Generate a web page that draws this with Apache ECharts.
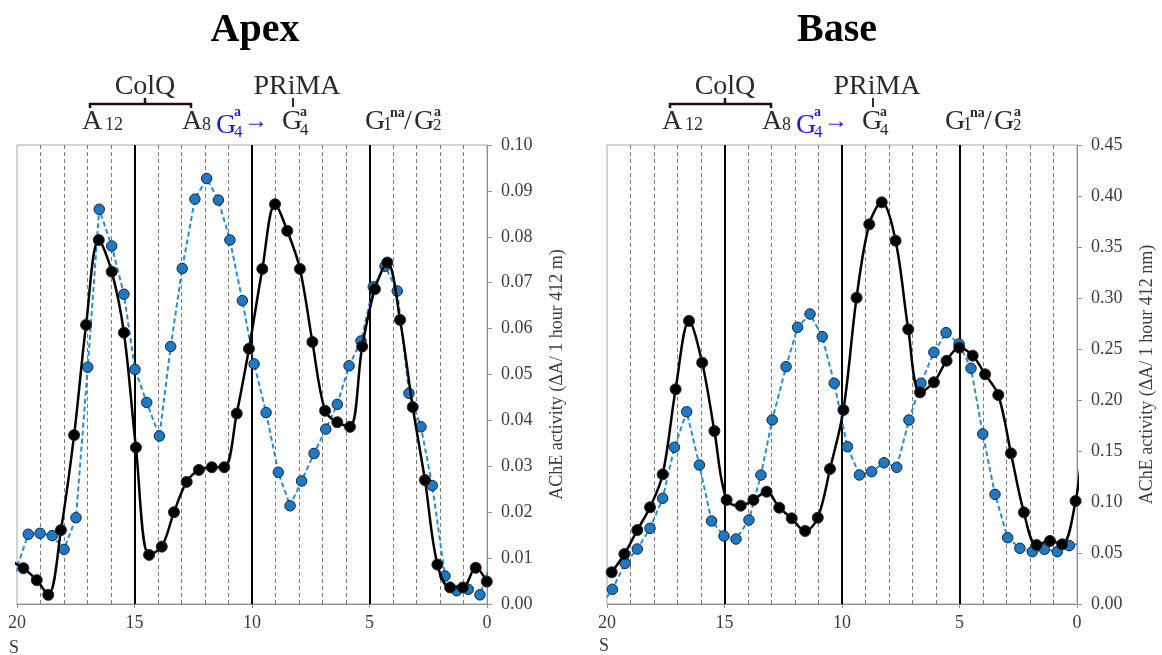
<!DOCTYPE html>
<html>
<head>
<meta charset="utf-8">
<title>AChE molecular forms – Apex / Base</title>
<script src="https://cdn.jsdelivr.net/npm/echarts@6/dist/echarts.min.js"></script>
<style>
  html, body { margin: 0; padding: 0; background: #fff; }
  #chart { width: 1162px; height: 655px; }
</style>
</head>
<body>
<div id="chart"></div>
<script>
// ---- Data: fraction position (S) and AChE activity for each gradient ----
// Apex, black series (smoothed)
const apexBlackX = [20.25, 19.73, 19.16, 18.67, 18.13, 17.57, 17.06, 16.52, 15.97, 15.45, 14.94, 14.38, 13.84, 13.32, 12.78, 12.26, 11.71, 11.18, 10.65, 10.13, 9.56, 9.02, 8.50, 7.96, 7.43, 6.89, 6.37, 5.83, 5.31, 4.77, 4.24, 3.70, 3.16, 2.64, 2.11, 1.57, 1.03, 0.48, 0.01];
const apexBlackY = [0.0093, 0.0078, 0.0052, 0.0020, 0.0161, 0.0368, 0.0608, 0.0793, 0.0724, 0.0591, 0.0341, 0.0107, 0.0125, 0.0200, 0.0266, 0.0292, 0.0298, 0.0298, 0.0415, 0.0556, 0.0730, 0.0871, 0.0813, 0.0730, 0.0571, 0.0421, 0.0396, 0.0386, 0.0561, 0.0686, 0.0744, 0.0619, 0.0429, 0.0270, 0.0086, 0.0036, 0.0036, 0.0079, 0.0049];
// Apex, blue series (dashed)
const apexBlueX = [20.2, 19.52, 19.02, 18.50, 18.00, 17.49, 16.99, 16.50, 15.97, 15.45, 14.98, 14.48, 13.94, 13.46, 12.97, 12.43, 11.93, 11.43, 10.94, 10.41, 9.91, 9.40, 8.88, 8.38, 7.89, 7.36, 6.86, 6.37, 5.87, 5.36, 4.84, 4.34, 3.82, 3.32, 2.81, 2.33, 1.79, 1.29, 0.80, 0.30, -0.2];
const apexBlueY = [0.0050, 0.0152, 0.0154, 0.0149, 0.0119, 0.0188, 0.0516, 0.0860, 0.0780, 0.0675, 0.0511, 0.0439, 0.0366, 0.0561, 0.0731, 0.0882, 0.0927, 0.0880, 0.0793, 0.0661, 0.0523, 0.0417, 0.0287, 0.0214, 0.0268, 0.0328, 0.0381, 0.0435, 0.0519, 0.0573, 0.0691, 0.0736, 0.0682, 0.0459, 0.0386, 0.0258, 0.0061, 0.0029, 0.0032, 0.0020, 0.0094];
// Base, black series (smoothed)
const baseBlackX = [19.80, 19.26, 18.71, 18.17, 17.63, 17.08, 16.51, 15.95, 15.43, 14.91, 14.31, 13.77, 13.21, 12.67, 12.14, 11.57, 11.03, 10.51, 9.94, 9.38, 8.84, 8.31, 7.72, 7.18, 6.68, 6.09, 5.55, 5.01, 4.44, 3.91, 3.35, 2.81, 2.26, 1.72, 1.15, 0.63, 0.06, -0.2];
const baseBlackY = [0.0311, 0.0490, 0.0725, 0.0948, 0.1271, 0.2105, 0.2775, 0.2366, 0.1696, 0.1020, 0.0964, 0.1020, 0.1101, 0.0944, 0.0840, 0.0716, 0.0846, 0.1324, 0.1902, 0.3003, 0.3722, 0.3938, 0.3562, 0.2693, 0.2075, 0.2174, 0.2385, 0.2513, 0.2435, 0.2252, 0.2049, 0.1477, 0.0899, 0.0578, 0.0618, 0.0585, 0.1010, 0.1500];
// Base, blue series (dashed)
const baseBlueX = [20.2, 19.77, 19.23, 18.71, 18.17, 17.63, 17.13, 16.61, 16.07, 15.55, 15.02, 14.51, 13.96, 13.45, 12.97, 12.38, 11.89, 11.36, 10.84, 10.33, 9.77, 9.26, 8.74, 8.21, 7.67, 7.15, 6.64, 6.09, 5.57, 5.02, 4.51, 4.01, 3.49, 2.95, 2.43, 1.90, 1.39, 0.84, 0.33, -0.3];
const baseBlueY = [0.0000, 0.0144, 0.0399, 0.0539, 0.0742, 0.1036, 0.1536, 0.1885, 0.1363, 0.0814, 0.0667, 0.0637, 0.0824, 0.1265, 0.1804, 0.2327, 0.2713, 0.2843, 0.2621, 0.2164, 0.1542, 0.1265, 0.1297, 0.1385, 0.1340, 0.1804, 0.2164, 0.2468, 0.2660, 0.2549, 0.2311, 0.1667, 0.1075, 0.0650, 0.0546, 0.0513, 0.0536, 0.0513, 0.0572, 0.0600];

// Axis ranges and tick steps
const xRange = [0, 20];           // S, drawn reversed (20 on the left)
const xStep = 5;
const apexYRange = [0, 0.10];
const apexYStep = 0.01;
const baseYRange = [0, 0.45];
const baseYStep = 0.05;

const panelTitles = ['Apex', 'Base'];
const yAxisTitles = ['AChE activity (\u0394A/ 1 hour 412 m)', 'AChE activity (\u0394A/ 1 hour 412 nm)'];

const zip = (xs, ys) => xs.map((x, i) => [x, ys[i]]);

const SERIF = '"Liberation Serif", "Times New Roman", serif';
const AXIS_GREY = '#8f8f8f';
const TEXT_GREY = '#3c3c3c';
const BLUE_LINE = '#2b8ad6';
const BLUE_DOT = '#1f78c0';

const grids = [
  { left: 17, top: 145, width: 470, height: 459 },
  { left: 607, top: 145, width: 470, height: 459 }
];

function makeX(gi) {
  return {
    type: 'value', gridIndex: gi, min: xRange[0], max: xRange[1], interval: xStep, inverse: true,
    axisLine: { show: true, onZero: false, lineStyle: { color: AXIS_GREY, width: 1 } },
    axisTick: { show: true, length: 4, lineStyle: { color: AXIS_GREY } },
    axisLabel: { fontFamily: SERIF, fontSize: 18, color: TEXT_GREY, margin: 10 },
    splitLine: { show: true, showMinLine: false, showMaxLine: false, lineStyle: { color: '#000', width: 2 } },
    minorTick: { show: false, splitNumber: 5 },
    minorSplitLine: { show: true, lineStyle: { color: '#7a7a7a', width: 1, type: [4, 3] } }
  };
}

function makeY(gi, range, step, name) {
  return {
    type: 'value', gridIndex: gi, position: 'right', min: range[0], max: range[1], interval: step,
    axisLine: { show: true, lineStyle: { color: AXIS_GREY, width: 1 } },
    axisTick: { show: true, inside: false, length: 5, lineStyle: { color: AXIS_GREY } },
    axisLabel: { fontFamily: SERIF, fontSize: 18, color: TEXT_GREY, margin: 14, formatter: v => v.toFixed(2) },
    splitLine: { show: false },
    name: name, nameLocation: 'middle', nameRotate: 90, nameGap: 61,
    nameTextStyle: { fontFamily: SERIF, fontSize: 18, color: TEXT_GREY }
  };
}

function blackSeries(gi, data) {
  return {
    type: 'line', xAxisIndex: gi, yAxisIndex: gi, data: data, smooth: 0.35,
    symbol: 'circle', symbolSize: 11,
    lineStyle: { color: '#000', width: 2.5 },
    itemStyle: { color: '#000', borderColor: '#262626', borderWidth: 1 },
    z: 3
  };
}

function blueSeries(gi, data) {
  return {
    type: 'line', xAxisIndex: gi, yAxisIndex: gi, data: data, smooth: false,
    symbol: 'circle', symbolSize: 10.5,
    lineStyle: { color: BLUE_LINE, width: 2, type: [5, 3] },
    itemStyle: { color: BLUE_DOT, borderColor: '#0c2a46', borderWidth: 1 },
    z: 2
  };
}

// ---- Annotation texts above each panel ----
// x is the left edge, baseline is the text baseline
function t(x, baseline, text, size, extra) {
  return {
    type: 'text', silent: true,
    style: Object.assign({
      text: text, x: x, y: baseline - 0.34 * size,
      fontFamily: SERIF, fontSize: size, fill: '#2b2b2b',
      align: 'left', verticalAlign: 'middle'
    }, extra || {})
  };
}

function annotations(dx) {
  const blue = { fill: '#1a1ae6' };
  return [
    // ColQ bracket over A12 .. A8
    { type: 'polyline', silent: true, shape: { points: [[90 + dx, 108], [90 + dx, 104], [191 + dx, 104], [191 + dx, 108]] },
      style: { stroke: '#2a0b0b', lineWidth: 2.5, fill: null } },
    { type: 'line', silent: true, shape: { x1: 145 + dx, y1: 104, x2: 145 + dx, y2: 98 },
      style: { stroke: '#2a0b0b', lineWidth: 2.5 } },
    t(145 + dx, 96.5, 'ColQ', 28, { align: 'center' }),
    // PRiMA marker over G4a
    { type: 'line', silent: true, shape: { x1: 293 + dx, y1: 98, x2: 293 + dx, y2: 107 },
      style: { stroke: '#1d3a1d', lineWidth: 2 } },
    t(297 + dx, 96.5, 'PRiMA', 28, { align: 'center' }),
    // A12
    t(82 + dx, 131.5, 'A', 28),
    t(105 + dx, 131.5, '12', 18),
    // A8
    t(182 + dx, 131.5, 'A', 28),
    t(202 + dx, 131.5, '8', 18),
    // blue G4a with arrow
    t(216 + dx, 135, 'G', 28, blue),
    t(234 + dx, 138, '4', 17, blue),
    t(234 + dx, 117.5, 'a', 14, Object.assign({ fontWeight: 'bold' }, blue)),
    t(244 + dx, 130, '\u2192', 24, Object.assign({ fontWeight: 'bold' }, blue)),
    // G4a
    t(282 + dx, 131.5, 'G', 28),
    t(300 + dx, 136.5, '4', 17),
    t(300 + dx, 117, 'a', 14, { fontWeight: 'bold' }),
    // G1na / G2a
    t(365 + dx, 131.5, 'G', 28),
    t(383 + dx, 131.5, '1', 18),
    t(390 + dx, 118, 'na', 14, { fontWeight: 'bold' }),
    t(404 + dx, 131.5, '/', 28),
    t(414 + dx, 131.5, 'G', 28),
    t(433 + dx, 131.5, '2', 17),
    t(434 + dx, 117, 'a', 14, { fontWeight: 'bold' })
  ];
}

const graphics = [
  { type: 'text', silent: true, style: { text: panelTitles[0], x: 255, y: 31, font: 'bold 40px ' + SERIF, fill: '#000', align: 'center', verticalAlign: 'middle' } },
  { type: 'text', silent: true, style: { text: panelTitles[1], x: 837, y: 31, font: 'bold 40px ' + SERIF, fill: '#000', align: 'center', verticalAlign: 'middle' } },
  { type: 'text', silent: true, style: { text: 'S', x: 14, y: 648, fontFamily: SERIF, fontSize: 18, fill: TEXT_GREY, align: 'center', verticalAlign: 'middle' } },
  { type: 'text', silent: true, style: { text: 'S', x: 604, y: 646, fontFamily: SERIF, fontSize: 18, fill: TEXT_GREY, align: 'center', verticalAlign: 'middle' } }
].concat(annotations(0), annotations(580));

const chart = echarts.init(document.getElementById('chart'), null, { renderer: 'canvas' });
chart.setOption({
  animation: false,
  backgroundColor: '#fff',
  grid: grids.map(g => Object.assign({ show: true, borderColor: '#a8a8a8', borderWidth: 1, backgroundColor: 'transparent' }, g)),
  xAxis: [makeX(0), makeX(1)],
  yAxis: [makeY(0, apexYRange, apexYStep, yAxisTitles[0]), makeY(1, baseYRange, baseYStep, yAxisTitles[1])],
  series: [
    blueSeries(0, zip(apexBlueX, apexBlueY)),
    blackSeries(0, zip(apexBlackX, apexBlackY)),
    blueSeries(1, zip(baseBlueX, baseBlueY)),
    blackSeries(1, zip(baseBlackX, baseBlackY))
  ],
  graphic: graphics
});
</script>
</body>
</html>
